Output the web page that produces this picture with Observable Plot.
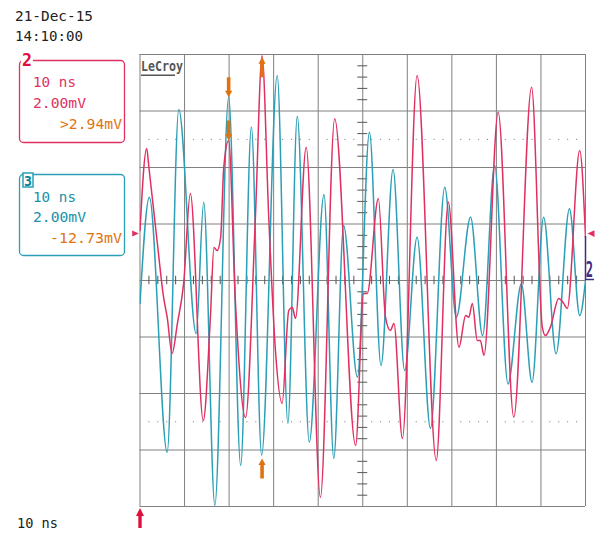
<!DOCTYPE html>
<html><head><meta charset="utf-8">
<script src="https://cdn.jsdelivr.net/npm/d3@7"></script>
<script src="https://cdn.jsdelivr.net/npm/@observablehq/plot@0.6"></script>
<style>html,body{margin:0;padding:0;background:#fff;} #chart{width:596px;height:534px;}</style>
</head><body><div id="chart"></div>
<script>
// ---- data (time in ns, amplitude in mV) ----
const redTime = [0, 1.5, 2.0, 3.9, 5.3, 6.1, 7.2, 8.4, 9.8, 11.3, 14.2, 15.8, 16.6, 17.3, 18.1, 18.8, 19.9, 21.4, 23.7, 25.9, 27.4, 28.9, 30.4, 31.9, 33.4, 34.2, 34.9, 37.3, 40.5, 43.7, 48.4, 50.2, 51.0, 53.5, 55.1, 56.2, 57.0, 58.9, 62.2, 66.5, 69.2, 71.6, 73.1, 73.8, 74.6, 75.7, 76.4, 77.2, 80.4, 83.9, 87.9, 90.3, 91.0, 92.1, 94.0, 95.1, 95.9, 98.7, 100];
const redMV = [1.77, 4.67, 4.0, 1.31, -0.6, -1.3, -2.58, -1.52, -0.1, 3.08, -4.96, -1.3, 1.17, 1.06, 1.52, 4.0, 4.96, -0.7, -4.85, 2.23, 7.96, 2.23, -2.48, -4.35, -1.06, -0.96, -1.34, 4.72, -7.68, 5.73, -5.84, -0.46, -0.46, 2.90, -1.3, -1.77, -1.52, -5.59, 7.26, -6.37, 2.77, -2.36, -1.24, -1.3, -0.81, -2.12, -2.12, -2.65, 5.96, -4.84, 6.84, -1.65, -1.95, -1.66, -0.64, -0.81, -0.99, 4.6, 1.53];
const tealTime = [0, 2.1, 6.1, 8.7, 12.6, 14.3, 16.8, 19.9, 22.6, 25.0, 27.3, 30.8, 33.2, 35.3, 38.0, 41.3, 43.5, 45.7, 48.8, 51.5, 54.1, 56.8, 59.4, 62.2, 65.2, 68.4, 71.0, 74.2, 76.9, 79.6, 82.6, 85.6, 88.0, 90.6, 93.4, 96.4, 98.7, 100];
const tealMV = [-0.81, 2.95, -6.08, 6.05, -1.88, 2.77, -7.96, 6.49, -6.55, 5.43, -6.19, 7.26, -5.06, 5.81, -5.72, 3.04, -6.30, 1.95, -3.42, 5.25, -3.01, 3.93, -3.19, 1.53, -5.24, 3.30, -1.30, 2.24, -1.95, 4.07, -3.66, -0.12, -3.6, 2.24, -2.59, 2.54, -1.24, 0];

// cursors (orange arrows)
const cursorTime = [19.9, 19.9, 27.4, 27.4];
const cursorMV = [6.49, 4.96, 7.9, -6.3];
const cursorDir = ["down", "down", "up", "up"];
// channel 2 level marker and trigger
const levelMV = [1.66];
const triggerTime = [0];

// labels
const dateLabel = "21-Dec-15";
const clockLabel = "14:10:00";
const ch2Labels = ["2", "10 ns", "2.00mV", ">2.94mV"];
const ch3Labels = ["3", "10 ns", "2.00mV", "-12.73mV"];
const timebaseLabel = "10 ns";
const brandLabel = "LeCroy";

// graticule
const majorT = d3.range(0, 101, 10);
const majorV = d3.range(-8, 9, 2);
const minorT = d3.range(2, 100, 2).filter(t => t % 10 !== 0);
const minorV = d3.range(-7.6, 7.7, 0.4).map(v => +v.toFixed(1)).filter(v => Math.abs(v % 2) > 0.01);
const dotGrid = [5, -5].flatMap(v => minorT.map(t => ({t, v})));

const red = "#e03062", teal = "#2b9fb6", orange = "#e0730f", grid = "#808080", tick = "#555";

const redData = redTime.map((t, i) => ({t, v: redMV[i]}));
const tealData = tealTime.map((t, i) => ({t, v: tealMV[i]}));
const cursors = cursorTime.map((t, i) => ({t, v: cursorMV[i], dir: cursorDir[i]}));

// custom symbols (tip at origin)
const arrowUp = {draw(c){c.moveTo(0,0);c.lineTo(3.6,6.5);c.lineTo(1.8,6.5);c.lineTo(1.8,20);c.lineTo(-1.8,20);c.lineTo(-1.8,6.5);c.lineTo(-3.6,6.5);c.closePath();}};
const arrowDown = {draw(c){c.moveTo(0,0);c.lineTo(3.6,-6.5);c.lineTo(1.8,-6.5);c.lineTo(1.8,-20);c.lineTo(-1.8,-20);c.lineTo(-1.8,-6.5);c.lineTo(-3.6,-6.5);c.closePath();}};
const bigArrowUp = {draw(c){c.moveTo(0,0);c.lineTo(4,8);c.lineTo(1.7,8);c.lineTo(1.7,20);c.lineTo(-1.7,20);c.lineTo(-1.7,8);c.lineTo(-4,8);c.closePath();}};
const triRight = {draw(c){c.moveTo(0,0);c.lineTo(-6.6,-3);c.lineTo(-6.6,3);c.closePath();}};
const triLeft = {draw(c){c.moveTo(0,0);c.lineTo(7,-3.3);c.lineTo(7,3.3);c.closePath();}};

const plot = Plot.plot({
  width: 596, height: 534,
  marginLeft: 139.5, marginRight: 11, marginTop: 54, marginBottom: 28,
  x: {domain: [0, 100], axis: null},
  y: {domain: [-8, 8], axis: null},
  style: {background: "#fff", overflow: "visible"},
  marks: [
    Plot.ruleX(majorT, {stroke: grid, strokeWidth: 1}),
    Plot.ruleY(majorV, {stroke: grid, strokeWidth: 1}),
    Plot.ruleY(minorV, {x1: 50 - 1.12, x2: 50 + 1.12, stroke: tick, strokeWidth: 1}),
    Plot.ruleX(minorT, {y1: -0.15, y2: 0.15, stroke: tick, strokeWidth: 1}),
    Plot.dot(dotGrid, {x: "t", y: "v", r: 0.6, fill: "#666", stroke: null}),
    Plot.line(tealData, {x: "t", y: "v", stroke: teal, strokeWidth: 1.5, curve: "monotone-x", clip: true}),
    Plot.line(redData, {x: "t", y: "v", stroke: red, strokeWidth: 1.5, curve: "monotone-x", clip: true}),
    Plot.dot(cursors.filter(d => d.dir === "up"), {x: "t", y: "v", symbol: arrowUp, fill: orange, stroke: null}),
    Plot.dot(cursors.filter(d => d.dir === "down"), {x: "t", y: "v", symbol: arrowDown, fill: orange, stroke: null}),
    Plot.dot(levelMV, {x: () => 0, y: d => d, dx: -1.2, symbol: triRight, fill: red, stroke: null}),
    Plot.dot(levelMV, {x: () => 100, y: d => d, dx: 2, symbol: triLeft, fill: red, stroke: null}),
    Plot.dot(triggerTime, {x: d => d, y: () => -8, dy: 1.5, symbol: bigArrowUp, fill: "#e0103e", stroke: null})
  ]
});
document.getElementById("chart").appendChild(plot);

// ---- annotations around the graticule ----
const svg = d3.select(plot);
const g = svg.append("g").attr("font-family", "'DejaVu Sans Mono', 'Liberation Mono', monospace").attr("font-size", 14);
function txt(s, x, y, fill, len, anchor = "start", extra = {}) {
  const t = g.append("text").attr("x", x).attr("y", y).attr("fill", fill).attr("text-anchor", anchor).text(s);
  if (len) t.attr("textLength", len).attr("lengthAdjust", "spacingAndGlyphs");
  for (const k in extra) t.attr(k, extra[k]);
  return t;
}
txt(dateLabel, 15, 20.5, "#222", 78);
txt(clockLabel, 15, 41, "#222", 68);
txt(timebaseLabel, 17, 528, "#222", 41);

// channel 2 box
g.append("rect").attr("x", 19.5).attr("y", 60.5).attr("width", 105).attr("height", 82).attr("rx", 4).attr("fill", "none").attr("stroke", red).attr("stroke-width", 1.3);
g.append("rect").attr("x", 21).attr("y", 53).attr("width", 12).attr("height", 13).attr("fill", "#fff");
txt(ch2Labels[0], 27, 66, "#e0103e", 10, "middle", {"font-weight": "bold", "font-size": 17});
txt(ch2Labels[1], 33, 87, red, 43);
txt(ch2Labels[2], 33, 108, red, 53);
txt(ch2Labels[3], 122, 128.7, orange, 62, "end");

// channel 3 box
g.append("rect").attr("x", 19.5).attr("y", 174.5).attr("width", 105).attr("height", 81).attr("rx", 4).attr("fill", "none").attr("stroke", teal).attr("stroke-width", 1.3);
g.append("rect").attr("x", 23).attr("y", 173).attr("width", 10).attr("height", 14).attr("fill", "#fff").attr("stroke", teal).attr("stroke-width", 1.5);
txt(ch3Labels[0], 28, 185.5, "#137f95", 8, "middle", {"font-weight": "bold", "font-size": 14});
txt(ch3Labels[1], 33, 201.7, "#1a91a8", 43);
txt(ch3Labels[2], 33, 221.7, "#1a91a8", 53);
txt(ch3Labels[3], 122, 243.3, orange, 72, "end");

// brand
txt(brandLabel, 141, 71, "#555", 42, "start", {"font-weight": "bold", "font-size": 14});
g.append("line").attr("x1", 141).attr("x2", 175).attr("y1", 75.3).attr("y2", 75.3).attr("stroke", "#555").attr("stroke-width", 1.5);

// channel 2 ground marker on the right
g.append("path").attr("d", "M585.5,236V279.5H594").attr("fill", "none").attr("stroke", "#3b2d84").attr("stroke-width", 1.5);
g.append("text").attr("transform", "translate(589.5,277) scale(0.55,1)").attr("text-anchor", "middle")
  .attr("fill", "#3b2d84").attr("font-weight", "bold").attr("font-size", 22).text("2");
</script>
</body></html>
